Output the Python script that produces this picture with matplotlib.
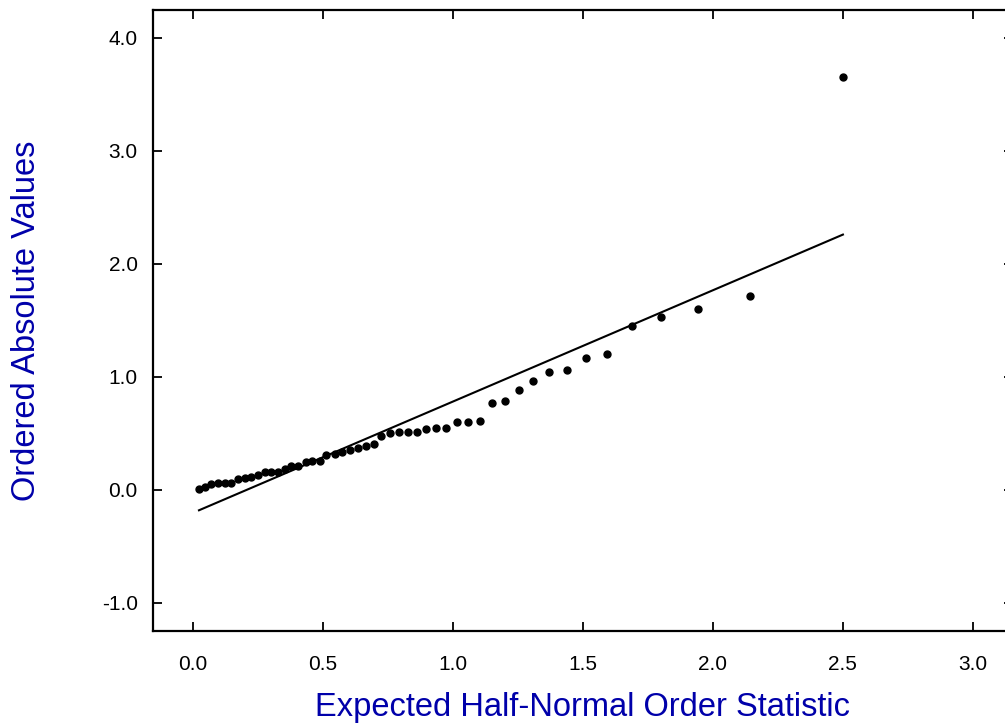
"""
Half-normal probability plot of ordered absolute values.
"""

import matplotlib
matplotlib.use("Agg")
import matplotlib.pyplot as plt

plt.rcParams["font.family"] = ["Liberation Sans", "DejaVu Sans"]

# expected half-normal order statistics
expected = [0.023, 0.045, 0.071, 0.096, 0.122, 0.148, 0.173, 0.199, 0.225, 0.250,
            0.276, 0.301, 0.327, 0.353, 0.378, 0.404, 0.433, 0.459, 0.487, 0.513,
            0.545, 0.574, 0.603, 0.635, 0.664, 0.695, 0.725, 0.756, 0.792, 0.827,
            0.863, 0.897, 0.936, 0.974, 1.015, 1.059, 1.103, 1.150, 1.202, 1.253,
            1.309, 1.370, 1.437, 1.510, 1.593, 1.688, 1.800, 1.944, 2.142, 2.500]

# ordered absolute values
ordered = [0.011, 0.022, 0.057, 0.064, 0.064, 0.064, 0.099, 0.105, 0.111, 0.128,
           0.158, 0.158, 0.163, 0.187, 0.211, 0.216, 0.246, 0.252, 0.258, 0.305,
           0.317, 0.335, 0.352, 0.370, 0.393, 0.405, 0.476, 0.505, 0.517, 0.511,
           0.511, 0.540, 0.546, 0.546, 0.604, 0.604, 0.610, 0.769, 0.784, 0.881,
           0.966, 1.046, 1.061, 1.170, 1.203, 1.455, 1.535, 1.605, 1.717, 3.651]

# reference line end points
line_x = [0.023, 2.500]
line_y = [-0.18, 2.26]

x_ticks = [0.0, 0.5, 1.0, 1.5, 2.0, 2.5, 3.0]
y_ticks = [-1.0, 0.0, 1.0, 2.0, 3.0, 4.0]

label_color = "#0000aa"

fig = plt.figure(figsize=(10.05, 7.26), dpi=100)
ax = fig.add_axes([0.1522, 0.1309, 0.8557, 0.8554])

ax.plot(line_x, line_y, color="black", linewidth=1.5)
ax.plot(expected, ordered, "o", color="black", markersize=5, linestyle="none")

ax.set_xlim(-0.154, 3.154)
ax.set_ylim(-1.248, 4.248)
ax.set_xticks(x_ticks)
ax.set_yticks(y_ticks)
ax.set_xticklabels([f"{v:.1f}" for v in x_ticks])
ax.set_yticklabels([f"{v:.1f}" for v in y_ticks])

for spine in ax.spines.values():
    spine.set_linewidth(1.6)

ax.tick_params(axis="both", direction="in", length=6.5, width=1.3,
               top=True, right=True, labelsize=15, colors="black")
ax.tick_params(axis="x", pad=17.5)
ax.tick_params(axis="y", pad=11)

ax.set_xlabel("Expected Half-Normal Order Statistic", fontsize=23.5,
              color=label_color, labelpad=13)
ax.set_ylabel("Ordered Absolute Values", fontsize=23.5,
              color=label_color, labelpad=43)

fig.savefig("out.png", dpi=100)
